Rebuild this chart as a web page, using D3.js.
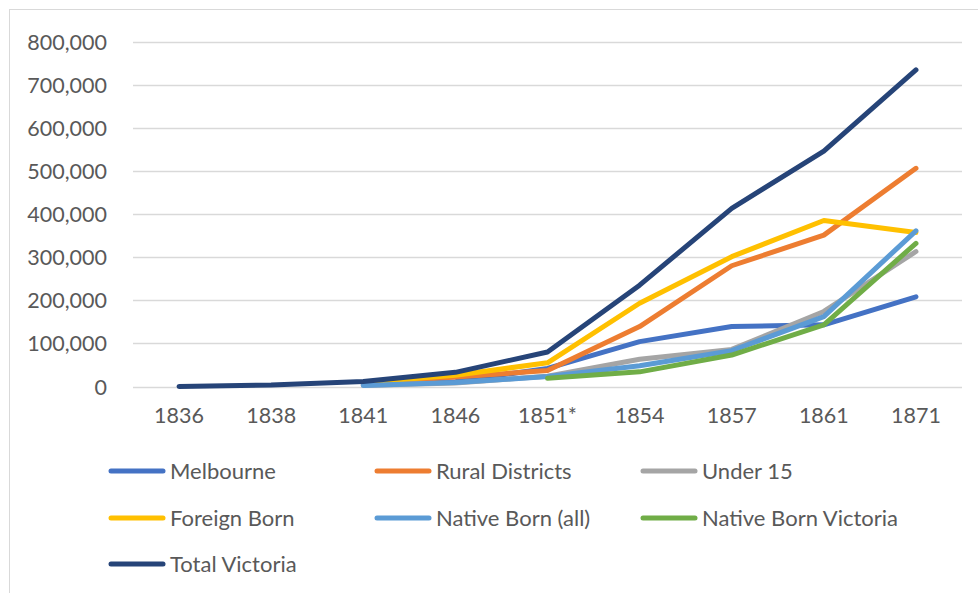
<!DOCTYPE html>
<html>
<head>
<meta charset="utf-8">
<script src="https://cdn.jsdelivr.net/npm/d3@7/dist/d3.min.js"></script>
<style>
  html, body { margin: 0; padding: 0; background: #fff; }
  svg { display: block; }
  text { font-family: Lato, "Open Sans", sans-serif; fill: #595959; }
</style>
</head>
<body>
<svg id="chart" width="978" height="593"></svg>
<script>
// ---- data ----
const years = ["1836", "1838", "1841", "1846", "1851*", "1854", "1857", "1861", "1871"];
const melbourne      = [null, null, 4500, 11000, 42000, 104000, 139000, 143000, 208000];
const ruralDistricts = [null, null, 7200, 21900, 37000, 139000, 280000, 351000, 506000];
const under15        = [null, null, 2500, 8000, 24000, 63000, 86000, 174000, 313000];
const foreignBorn    = [null, null, 9000, 26000, 55000, 193000, 301000, 385000, 357000];
const nativeBornAll  = [null, null, 2500, 9000, 23000, 48000, 83000, 162000, 361000];
const nativeBornVic  = [null, null, null, null, 19000, 34000, 73000, 143000, 332000];
const totalVictoria  = [224, 3511, 11738, 32879, 80000, 235000, 413000, 546000, 734000];
const yTicks = [0, 100000, 200000, 300000, 400000, 500000, 600000, 700000, 800000];

const seriesNames  = ["Melbourne", "Rural Districts", "Under 15", "Foreign Born", "Native Born (all)", "Native Born Victoria", "Total Victoria"];
const seriesValues = [melbourne, ruralDistricts, under15, foreignBorn, nativeBornAll, nativeBornVic, totalVictoria];
const seriesColors = ["#4472C4", "#ED7D31", "#A5A5A5", "#FFC000", "#5B9BD5", "#70AD47", "#264478"];

// ---- layout ----
const svg = d3.select("#chart");
const plot = { left: 133, right: 962, top: 41.5, bottom: 386.5 };

svg.append("rect")
  .attr("x", 9.5).attr("y", 9.5).attr("width", 1200).attr("height", 1200)
  .attr("fill", "#fff").attr("stroke", "#d9d9d9").attr("stroke-width", 1);

const x = d3.scaleBand().domain(years).range([plot.left, plot.right]).paddingInner(0).paddingOuter(0);
const xc = d => x(d) + x.bandwidth() / 2;
const y = d3.scaleLinear().domain([0, 800000]).range([plot.bottom, plot.top]);

// gridlines
svg.append("g")
  .selectAll("line").data(yTicks).join("line")
  .attr("x1", plot.left).attr("x2", plot.right)
  .attr("y1", d => Math.round(y(d)) + 0.5).attr("y2", d => Math.round(y(d)) + 0.5)
  .attr("stroke", "#d9d9d9").attr("stroke-width", 1.3);

// y axis labels
const yAxis = d3.axisLeft(y).tickValues(yTicks).tickSize(0).tickPadding(26)
  .tickFormat(d3.format(","));
const gy = svg.append("g").attr("transform", `translate(${plot.left},0)`).call(yAxis);
gy.select(".domain").remove();
gy.selectAll("text").style("font-size", "21.5px").attr("fill", "#595959").attr("dy", "0.35em");

// x axis labels
const xAxis = d3.axisBottom(x).tickSize(0).tickPadding(21);
const gx = svg.append("g").attr("transform", `translate(0,${plot.bottom})`).call(xAxis);
gx.select(".domain").remove();
gx.selectAll("text").style("font-size", "21.5px").attr("fill", "#595959");

// lines
const line = d3.line()
  .defined(d => d.v !== null)
  .x(d => xc(d.year))
  .y(d => y(d.v));

seriesValues.forEach((vals, i) => {
  const pts = years.map((yr, j) => ({ year: yr, v: vals[j] }));
  svg.append("path")
    .datum(pts)
    .attr("d", line)
    .attr("fill", "none")
    .attr("stroke", seriesColors[i])
    .attr("stroke-width", 5)
    .attr("stroke-linecap", "round")
    .attr("stroke-linejoin", "round");
});

// legend
const legCols = [111, 377, 643];
const legRows = [471, 518, 564];
const leg = svg.append("g");
seriesNames.forEach((name, i) => {
  const cx = legCols[i % 3], cy = legRows[Math.floor(i / 3)];
  leg.append("line")
    .attr("x1", cx).attr("x2", cx + 52).attr("y1", cy).attr("y2", cy)
    .attr("stroke", seriesColors[i]).attr("stroke-width", 5).attr("stroke-linecap", "round");
  leg.append("text")
    .attr("x", cx + 59).attr("y", cy).attr("dy", "0.35em")
    .style("font-size", "22px")
    .text(name);
});
</script>
</body>
</html>
